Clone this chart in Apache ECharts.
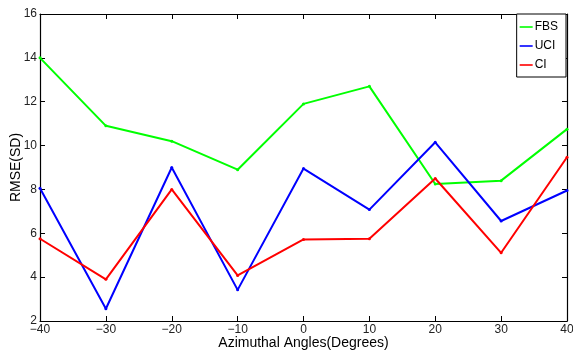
<!DOCTYPE html>
<html><head><meta charset="utf-8">
<script src="https://cdn.jsdelivr.net/npm/echarts@6/dist/echarts.min.js"></script>
<style>html,body{margin:0;padding:0;background:#fff}#c{width:573px;height:354px}</style>
</head><body><div id="c"></div>
<script>
const angles = [-40, -30, -20, -10, 0, 10, 20, 30, 40];
const fbs = [14.0, 10.9, 10.2, 8.9, 11.9, 12.7, 8.25, 8.4, 10.75];
const uci = [8.05, 2.56, 9.0, 3.42, 8.95, 7.08, 10.15, 6.56, 7.95];
const ci  = [5.75, 3.9, 8.0, 4.08, 5.72, 5.75, 8.5, 5.11, 9.47];
const seriesNames = ['FBS', 'UCI', 'CI'];
const seriesColors = ['#00ff00', '#0000ff', '#ff0000'];
const seriesData = [fbs, uci, ci];

const chart = echarts.init(document.getElementById('c'));
const font = 'Liberation Sans, Arial, sans-serif';
const fmt = v => (v < 0 ? '\u2212' + Math.abs(v) : String(v));
function axisCommon() {
  return {
    axisLine: {show: true, onZero: false, lineStyle: {color: '#000', width: 1.2}},
    axisTick: {show: true, inside: true, length: 5, lineStyle: {color: '#000'}},
    splitLine: {show: false}
  };
}
chart.setOption({
  animation: false,
  backgroundColor: '#fff',
  grid: {left: 40, right: 6, top: 14, bottom: 33, containLabel: false, outerBoundsMode: 'none'},
  legend: {
    orient: 'vertical', right: 7, top: 14,
    backgroundColor: '#fff', borderColor: '#000', borderWidth: 1,
    padding: [7, 8, 6, 3], itemGap: 7, itemWidth: 13, itemHeight: 10,
    icon: 'path://M0,4.2L13,4.2L13,5.8L0,5.8Z',
    textStyle: {fontFamily: font, fontSize: 12, color: '#000', padding: [0, 0, 0, -3]},
    data: seriesNames
  },
  xAxis: [
    Object.assign({type: 'value', min: -40, max: 40, interval: 10, position: 'bottom',
      name: 'Azimuthal Angles(Degrees)', nameLocation: 'middle', nameGap: 15, nameMoveOverlap: false,
      nameTextStyle: {fontFamily: font, fontSize: 14, color: '#000'},
      axisLabel: {formatter: fmt, fontFamily: font, fontSize: 12, color: '#222', margin: 3}}, axisCommon()),
    Object.assign({type: 'value', min: -40, max: 40, interval: 10, position: 'top',
      axisLabel: {show: false}}, axisCommon())
  ],
  yAxis: [
    Object.assign({type: 'value', min: 2, max: 16, interval: 2, position: 'left',
      name: 'RMSE(SD)', nameLocation: 'middle', nameGap: 17, nameMoveOverlap: false,
      nameTextStyle: {fontFamily: font, fontSize: 14, color: '#000'},
      axisLabel: {fontFamily: font, fontSize: 12, color: '#222', margin: 3}}, axisCommon()),
    Object.assign({type: 'value', min: 2, max: 16, interval: 2, position: 'right',
      axisLabel: {show: false}}, axisCommon())
  ],
  series: seriesNames.map((n, i) => ({
    name: n, type: 'line', xAxisIndex: 0, yAxisIndex: 0,
    data: angles.map((a, j) => [a, seriesData[i][j]]),
    symbol: 'circle', symbolSize: 3, showSymbol: true,
    lineStyle: {color: seriesColors[i], width: 2},
    itemStyle: {color: seriesColors[i]}
  }))
});
</script></body></html>
